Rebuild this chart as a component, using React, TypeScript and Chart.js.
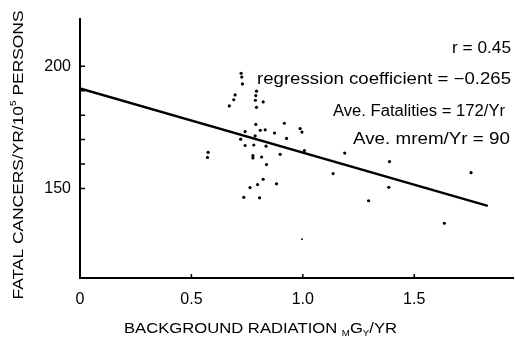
import React, { useEffect, useRef } from "react";
import { Chart, registerables } from "chart.js";

Chart.register(...registerables);

// Background radiation (mGy/yr) for each locality
const radiation = [
  0.723, 0.726, 0.729, 0.696, 0.69, 0.67, 0.792, 0.789, 0.787, 0.822, 0.792,
  0.789, 0.917, 0.741, 0.809, 0.831, 0.873, 0.988, 0.996, 0.721, 0.786, 0.927,
  0.741, 0.78, 0.835, 0.776, 0.776, 0.815, 0.898, 1.007, 0.575, 0.572, 0.837,
  1.188, 1.136, 0.822, 0.797, 0.763, 0.882, 0.735, 0.806, 0.996, 1.389, 1.386,
  1.295, 1.755, 1.635,
];
// Fatal cancers / yr / 10^5 persons
const fatalities = [
  197.1, 195.6, 192.8, 188.3, 186.3, 183.8, 189.8, 188.0, 186.1, 185.4, 183.2,
  176.2, 176.7, 173.3, 173.8, 174.0, 172.7, 174.5, 173.1, 170.2, 171.5, 170.5,
  167.6, 167.8, 167.3, 163.5, 162.5, 162.9, 164.0, 165.5, 164.8, 162.7, 159.8,
  164.5, 156.1, 153.8, 151.6, 150.4, 151.9, 146.4, 146.2, 129.3, 161.0, 150.5,
  145.0, 156.5, 135.8,
];
// Regression line end points
const regressionX = [0, 1.83];
const regressionY = [190.9, 142.9];

const xTickValues = [0, 0.5, 1.0, 1.5];
const xTickLabels = ["0", "0.5", "1.0", "1.5"];
const xTickMarks = [0.5, 1.0, 1.5];
const yTickValues = [150, 160, 170, 180, 190, 200];
const yTickLabels = ["150", "", "", "", "", "200"];

const statLines = [
  "r = 0.45",
  "regression coefficient = \u22120.265",
  "Ave. Fatalities = 172/Yr",
  "Ave. mrem/Yr = 90",
];

const FONT = '"Liberation Sans", Arial, sans-serif';

type Seg = { text: string; size: number; dy?: number };

function drawFitted(
  ctx: CanvasRenderingContext2D,
  segs: Seg[],
  x: number,
  y: number,
  width: number,
  align: "left" | "right" | "center"
) {
  let total = 0;
  const widths = segs.map((s) => {
    ctx.font = `${s.size}px ${FONT}`;
    const w = ctx.measureText(s.text).width;
    total += w;
    return w;
  });
  const sx = width / total;
  const startX = align === "right" ? x - width : align === "center" ? x - width / 2 : x;
  ctx.save();
  ctx.translate(startX, y);
  ctx.scale(sx, 1);
  ctx.textAlign = "left";
  ctx.textBaseline = "alphabetic";
  ctx.fillStyle = "#000";
  let cx = 0;
  segs.forEach((s, i) => {
    ctx.font = `${s.size}px ${FONT}`;
    ctx.fillText(s.text, cx, s.dy || 0);
    cx += widths[i];
  });
  ctx.restore();
}

const decorPlugin = {
  id: "decor",
  afterDraw(chart: any) {
    const ctx: CanvasRenderingContext2D = chart.ctx;
    const xs = chart.scales.x;
    const ys = chart.scales.y;
    const area = chart.chartArea;
    ctx.save();
    ctx.strokeStyle = "#000";
    ctx.lineWidth = 1.5;
    ctx.beginPath();
    xTickMarks.forEach((v) => {
      const px = xs.getPixelForValue(v);
      ctx.moveTo(px, area.bottom);
      ctx.lineTo(px, area.bottom - 4);
    });
    yTickValues.forEach((v) => {
      const py = ys.getPixelForValue(v);
      ctx.moveTo(area.left, py);
      ctx.lineTo(area.left + 5, py);
    });
    ctx.stroke();
    ctx.restore();

    // statistics text
    const statLayout = [
      { right: 511, base: 53, width: 59 },
      { right: 511, base: 84, width: 254 },
      { right: 505, base: 116, width: 172 },
      { right: 510, base: 144, width: 157 },
    ];
    statLines.forEach((t, i) => {
      const L = statLayout[i];
      drawFitted(ctx, [{ text: t, size: 16 }], L.right, L.base, L.width, "right");
    });

    // x-axis title
    drawFitted(
      ctx,
      [
        { text: "BACKGROUND RADIATION ", size: 15.5 },
        { text: "M", size: 9, dy: 3 },
        { text: "G", size: 15.5 },
        { text: "Y", size: 9, dy: 3 },
        { text: "/YR", size: 15.5 },
      ],
      124,
      333,
      273,
      "left"
    );

    // y-axis title
    ctx.save();
    ctx.translate(17, 155);
    ctx.rotate(-Math.PI / 2);
    drawFitted(
      ctx,
      [
        { text: "FATAL CANCERS/YR/10", size: 15.5 },
        { text: "5", size: 9, dy: -7 },
        { text: " PERSONS", size: 15.5 },
      ],
      0,
      5.5,
      289,
      "center"
    );
    ctx.restore();
  },
};

export default function App() {
  const ref = useRef<HTMLCanvasElement | null>(null);
  useEffect(() => {
    if (!ref.current) return;
    const chart = new Chart(ref.current, {
      type: "scatter",
      data: {
        datasets: [
          {
            data: radiation.map((x, i) => ({ x, y: fatalities[i] })),
            backgroundColor: "#000",
            borderColor: "#000",
            borderWidth: 0,
            pointRadius: (c: any) => (c.dataIndex === 41 ? 0.9 : 1.6),
            pointHoverRadius: 1.6,
          },
          {
            data: regressionX.map((x, i) => ({ x, y: regressionY[i] })),
            showLine: true,
            borderColor: "#000",
            borderWidth: 2.5,
            pointRadius: 0,
            fill: false,
          },
        ],
      } as any,
      plugins: [decorPlugin],
      options: {
        responsive: false,
        animation: false,
        events: [],
        layout: { padding: { top: 18, right: 0, left: 0, bottom: 0 } },
        plugins: {
          legend: { display: false },
          tooltip: { enabled: false },
          title: { display: false },
        },
        scales: {
          x: {
            type: "linear",
            min: 0,
            max: 1.945,
            grid: { display: false, drawTicks: false },
            border: { display: true, color: "#000", width: 2 },
            afterBuildTicks: (s: any) => {
              s.ticks = xTickValues.map((v) => ({ value: v }));
            },
            afterFit: (s: any) => {
              s.height = 61;
            },
            ticks: {
              color: "#000",
              font: { family: FONT, size: 16 },
              padding: 12,
              maxRotation: 0,
              autoSkip: false,
              callback: (_v: any, i: number) => xTickLabels[i],
            },
          },
          y: {
            type: "linear",
            min: 113.4,
            max: 219.5,
            grid: { display: false, drawTicks: false },
            border: { display: true, color: "#000", width: 2 },
            afterBuildTicks: (s: any) => {
              s.ticks = yTickValues.map((v) => ({ value: v }));
            },
            afterFit: (s: any) => {
              s.width = 80;
            },
            ticks: {
              color: "#000",
              font: { family: FONT, size: 16 },
              padding: 9,
              autoSkip: false,
              callback: (_v: any, i: number) => yTickLabels[i],
            },
          },
        },
      } as any,
    });
    return () => chart.destroy();
  }, []);
  return (
    <div style={{ position: "fixed", left: 0, top: 0, width: 515, height: 339, background: "#fff" }}>
      <canvas ref={ref} width={515} height={339} style={{ display: "block" }} />
    </div>
  );
}
